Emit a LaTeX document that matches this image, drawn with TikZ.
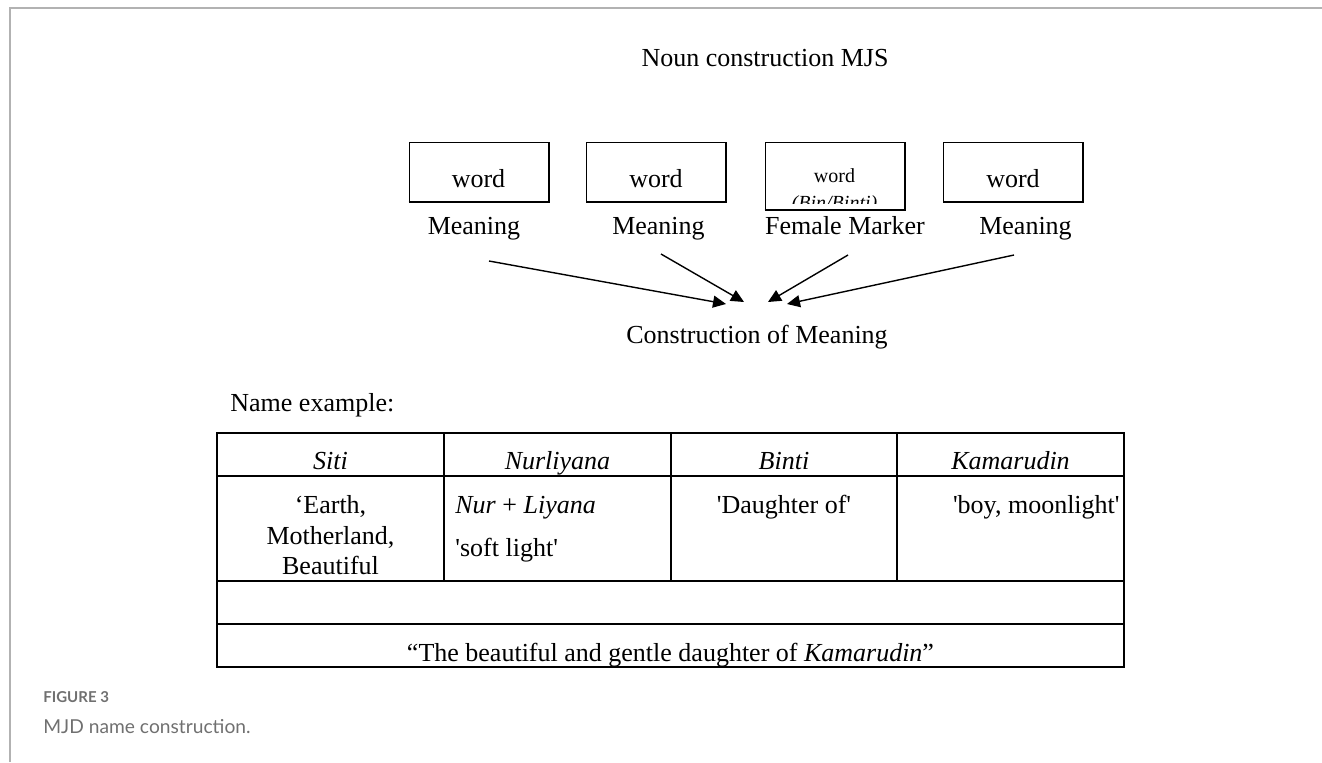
\documentclass[tikz,border=0pt]{standalone}
\usepackage{fontspec}
\setmainfont{Liberation Serif}
\newfontfamily\captionfont{Lato}
\usetikzlibrary{arrows.meta,positioning}
\definecolor{Frame}{HTML}{B2B2B2}
\definecolor{CapGray}{HTML}{707070}

\begin{document}
\begin{tikzpicture}[x=0.5pt,y=-0.5pt,
      label/.style={font=\fontsize{13}{15}\selectfont,inner sep=0pt},
      small/.style={font=\fontsize{10}{12}\selectfont,inner sep=0pt},
      wordbox/.style={draw,line width=0.5pt,inner sep=0pt,
        minimum width=69.5pt,minimum height=29.5pt},
      shade/.style={line width=1pt},
      grid/.style={line width=1pt},
      arrow/.style={-{Triangle[length=6.5pt,width=6pt]},line width=0.7pt},
      frame/.style={draw=Frame,line width=1pt},
      capt/.style={anchor=base west,inner sep=0pt,text=CapGray}
    ]
  \useasboundingbox (0,0) rectangle (1322,762);
  \draw[frame] (10,762) -- (10,8) -- (1322,8);

  \node[label,anchor=base] (title) at (765,66) {Noun construction MJS};

  % word boxes
  \foreach \i/\x in {1/478.5,2/656,4/1013} {
    \node[wordbox] (b\i) at (\x,171.5) {};
    \node[label,anchor=base] (w\i) at (\x,187) {word};
    \draw[shade] (b\i.south west) -- (b\i.south east) -- (b\i.north east);
  }
  \node[wordbox,minimum height=33.75pt] (b3) at (834.5,175.75) {};
  \draw[shade] (b3.south west) -- (b3.south east) -- (b3.north east);
  \node[small,anchor=base] (w3) at (834.5,182) {word};
  \begin{scope}
    \clip (766,190) rectangle (903,203);
    \node[small,anchor=base] (bin) at (834.5,209) {\textit{(Bin/Binti)}};
  \end{scope}

  \node[label,anchor=base] (m1) at (474,234) {Meaning};
  \node[label,anchor=base] (m2) at (658.5,234) {Meaning};
  \node[label,anchor=base] (fm) at (845,234) {Female Marker};
  \node[label,anchor=base] (m4) at (1025.5,234) {Meaning};

  % arrows to the meaning
  \coordinate (s1) at (489,261);
  \coordinate (s2) at (661,254);
  \coordinate (s3) at (848,255);
  \coordinate (s4) at (1014,255);
  \coordinate (t1) at (726,304);
  \coordinate (t2) at (744,302);
  \coordinate (t3) at (768,302);
  \coordinate (t4) at (787,304);
  \draw[arrow] (s1) -- (t1);
  \draw[arrow] (s2) -- (t2);
  \draw[arrow] (s3) -- (t3);
  \draw[arrow] (s4) -- (t4);

  \node[label,anchor=base] (cm) at (757,343) {Construction of Meaning};

  \node[label,anchor=base west] (ne) at (230,411) {Name example:};

  % table
  \draw[grid] (217,432.5) rectangle (1124,667);
  \foreach \y in {476,581,624} \draw[grid] (217,\y) -- (1124,\y);
  \foreach \x in {444,671,897} \draw[grid] (\x,432.5) -- (\x,581);

  \node[label,anchor=base] (h1) at (330.5,469.5) {\textit{Siti}};
  \node[label,anchor=base] (h2) at (557.5,469.5) {\textit{Nurliyana}};
  \node[label,anchor=base] (h3) at (784,469.5) {\textit{Binti}};
  \node[label,anchor=base] (h4) at (1010.5,469.5) {\textit{Kamarudin}};

  \node[label,anchor=base] (e1) at (330.5,513.5) {‘Earth,};
  \node[label,anchor=base] (e2) at (330.5,544) {Motherland,};
  \node[label,anchor=base] (e3) at (330.5,574) {Beautiful};
  \node[label,anchor=base west] (n1) at (455,513.5) {\textit{Nur} + \textit{Liyana}};
  \node[label,anchor=base west] (n2) at (455,556) {\textquotesingle soft light\textquotesingle};
  \node[label,anchor=base] (d1) at (784,513.5) {\textquotesingle Daughter of\textquotesingle};
  \node[label,anchor=base east] (k1) at (1120,513.5) {\textquotesingle boy, moonlight\textquotesingle};

  \node[label,anchor=base] (q1) at (670.5,661)
    {“The beautiful and gentle daughter of \textit{Kamarudin}”};

  % caption
  \node[capt,font=\captionfont\bfseries\fontsize{7.5}{9}\selectfont] (fig) at (43,702) {FIGURE 3};
  \node[capt,font=\captionfont\fontsize{9.6}{12}\selectfont] (cap) at (43,733) {MJD name construction.};
\end{tikzpicture}
\end{document}
